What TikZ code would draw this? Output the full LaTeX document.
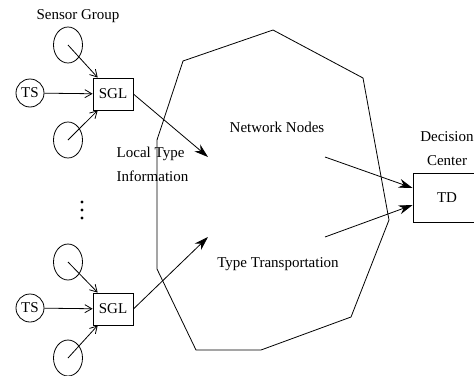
\documentclass[tikz,border=0pt]{standalone}
\usepackage{fontspec}
\setmainfont{Liberation Serif}
\usetikzlibrary{arrows.meta,shapes.geometric,positioning}
\begin{document}
\begin{tikzpicture}[x=1pt,y=-1pt,line width=0.8pt,
    font=\fontsize{15}{24}\selectfont,
    sensor/.style={ellipse,draw,minimum width=29pt,minimum height=36pt,inner sep=0pt},
    tsnode/.style={circle,draw,minimum size=28pt,inner sep=0pt},
    sglbox/.style={rectangle,draw,minimum width=40pt,minimum height=32pt,inner sep=0pt},
    feed/.style={-{Straight Barb[length=7pt,width=8pt]}},
    report/.style={-{Stealth[length=14pt,width=9pt]}}]
  \useasboundingbox (0,0) rectangle (474,375);
  \clip (0,0) rectangle (474,375);
  % first sensor group
  \draw
    (68,45) node[sensor] (s1a){}
    (30,93) node[tsnode] (ts1){TS}
    (113,94) node[sglbox] (sgl1){SGL}
    (68,140) node[sensor] (s1b){};
  \node (sg) at (78,16) {Sensor Group};
  % second sensor group
  \draw
    (68,262) node[sensor] (s2a){}
    (30,308) node[tsnode] (ts2){TS}
    (113,309) node[sglbox] (sgl2){SGL}
    (68,358) node[sensor] (s2b){};
  \foreach \y in {202,210,218}
    \fill (82,\y) circle (1.6);
  % network cloud
  \draw (273,30) -- (363,78) -- (389,220) -- (351,317) -- (261,350)
    -- (196,350) -- (157,269) -- (157,140) -- (183,61) -- cycle;
  \node (nn) at (277,127) {Network Nodes};
  \node (tt) at (278,264) {Type Transportation};
  \node[align=left,anchor=west] (lti) at (113,164) {Local Type\\Information};
  \coordinate (netin1) at (208,157);
  \coordinate (netin2) at (208,237);
  \coordinate (netout1) at (325,157);
  \coordinate (netout2) at (325,237);
  % decision center
  \node[rectangle,draw,minimum width=68pt,minimum height=49pt,inner sep=0pt] (td) at (447,197.5) {TD};
  \node[align=center,above=3pt of td] (dc) {Decision\\Center};
  \begin{scope}[feed]
    \draw (s1a.center) to (sgl1.133);
    \draw (ts1) to (sgl1);
    \draw (s1b.center) to (sgl1.227);
    \draw (s2a.center) to (sgl2.133);
    \draw (ts2) to (sgl2);
    \draw (s2b.center) to (sgl2.227);
  \end{scope}
  \begin{scope}[report]
    \draw (sgl1.east) to (netin1);
    \draw (sgl2.east) to (netin2);
    \draw (netout1) to ([yshift=9.5pt]td.west);
    \draw (netout2) to ([yshift=-7.5pt]td.west);
  \end{scope}
\end{tikzpicture}
\end{document}
